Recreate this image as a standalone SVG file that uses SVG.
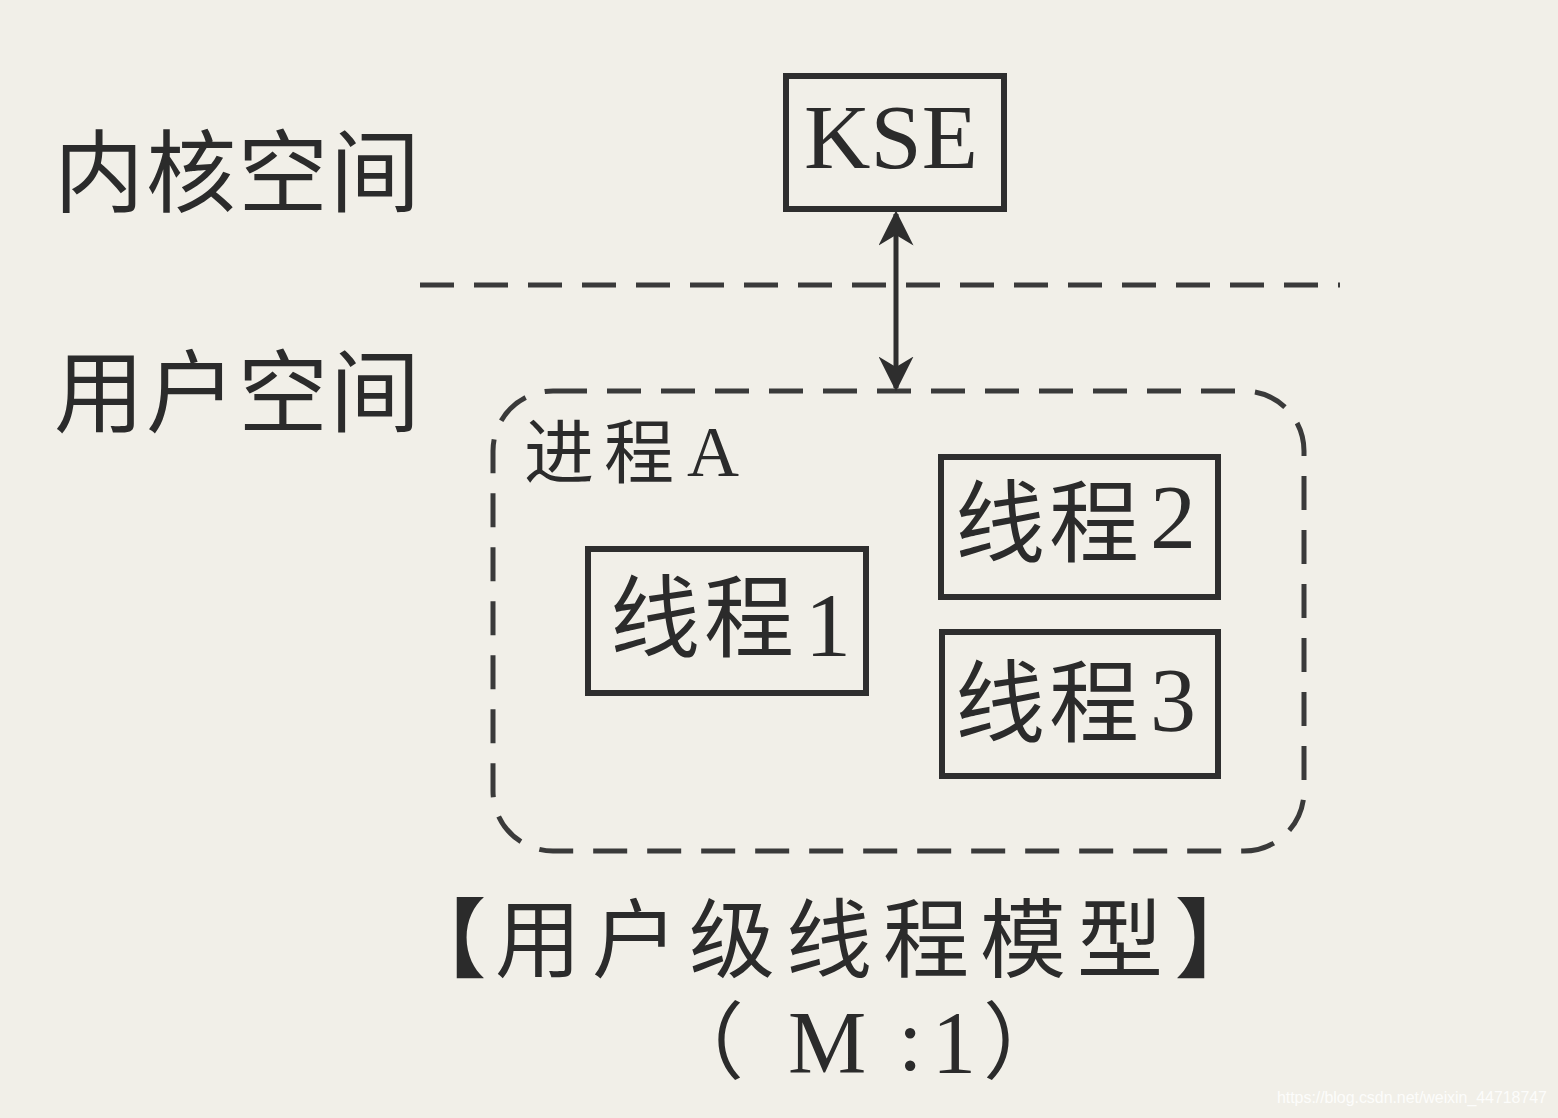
<svg xmlns="http://www.w3.org/2000/svg" width="1558" height="1118" viewBox="0 0 1558 1118">
<defs>
<style>
.cjk{font-family:"Noto Sans CJK SC","Liberation Serif",sans-serif;fill:#2b2b2b;font-weight:400}
.ser{font-family:"Liberation Serif","Noto Sans CJK SC",serif;fill:#2b2b2b}
.box{fill:none;stroke:#2e2e2e;stroke-width:6}
.dash{fill:none;stroke:#3a3a3a;stroke-width:5;stroke-dasharray:34 20}
</style>
<marker id="ah" viewBox="0 0 10 10" refX="9" refY="5" markerWidth="7" markerHeight="7" orient="auto-start-reverse" markerUnits="strokeWidth">
<path d="M0,0 L10,5 L0,10 L3,5 z" fill="#2e2e2e"/>
</marker>
</defs>
<rect width="1558" height="1118" fill="#f1efe8"/>
<g id="labels">
<text class="cjk" x="54" y="205" font-size="90" textLength="366">内核空间</text>
<text class="cjk" x="54" y="425" font-size="90" textLength="366">用户空间</text>
</g>
<g id="divider">
<line class="dash" x1="420" y1="285" x2="1340" y2="285"/>
</g>
<g id="kse">
<rect class="box" x="786" y="76" width="218" height="133"/>
<text class="ser" x="891" y="168" font-size="92" text-anchor="middle">KSE</text>
</g>
<g id="processA">
<rect class="dash" x="493" y="391" width="811" height="460" rx="60" ry="60"/>
<text class="cjk" x="524" y="478" font-size="70" textLength="150">进程</text>
<text class="ser" x="687" y="476" font-size="72">A</text>
</g>
<g id="thread1">
<rect class="box" x="588" y="549" width="278" height="144"/>
<text class="cjk" x="610" y="650" font-size="90" textLength="184">线程</text>
<text class="ser" x="805" y="656" font-size="92">1</text>
</g>
<g id="thread2">
<rect class="box" x="941" y="457" width="277" height="140"/>
<text class="cjk" x="955" y="555" font-size="90" textLength="184">线程</text>
<text class="ser" x="1150" y="548" font-size="92">2</text>
</g>
<g id="thread3">
<rect class="box" x="942" y="632" width="276" height="144"/>
<text class="cjk" x="955" y="735" font-size="90" textLength="184">线程</text>
<text class="ser" x="1150" y="731" font-size="92">3</text>
</g>
<g id="connectors">
<line x1="896" y1="214" x2="896" y2="388" stroke="#2e2e2e" stroke-width="5" marker-start="url(#ah)" marker-end="url(#ah)"/>
</g>
<g id="caption">
<text class="ser" y="971" font-size="86"><tspan x="400" font-weight="700">【</tspan><tspan x="495" textLength="668">用户级线程模型</tspan><tspan x="1175" font-weight="700">】</tspan></text>
<text class="ser" y="1072" font-size="88"><tspan x="660" font-size="84">（</tspan><tspan x="788">M</tspan><tspan x="898" y="1070">:</tspan><tspan x="932" y="1072">1</tspan><tspan x="983" font-size="84">）</tspan></text>
</g>
<text x="1277" y="1103" font-family="Liberation Sans,sans-serif" font-size="16" textLength="270" fill="#ffffff" fill-opacity="0.85">https://blog.csdn.net/weixin_44718747</text>
</svg>
